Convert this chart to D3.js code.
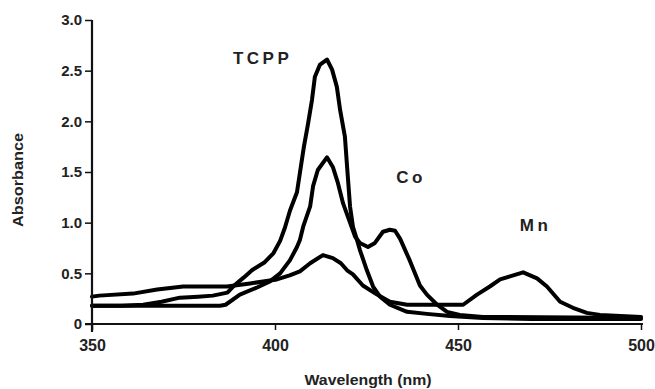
<!DOCTYPE html>
<html>
<head>
<meta charset="utf-8">
<script src="https://cdn.jsdelivr.net/npm/d3@7"></script>
<style>
  body { margin: 0; background: #fff; }
  text { font-family: "Liberation Sans", Arial, sans-serif; font-weight: bold; fill: #222; }
</style>
</head>
<body>
<div id="chart-area"></div>
<script>
// [wavelength nm, absorbance]
const tcpp = [[350,0.18],[358,0.18],[364,0.19],[369,0.22],[374,0.26],[379,0.27],[383,0.28],[387,0.31],[389,0.385],[391.5,0.46],[393.7,0.53],[397.2,0.61],[399.6,0.70],[401.4,0.82],[402.7,0.95],[404.1,1.12],[406,1.30],[406.8,1.49],[407.9,1.75],[409,1.97],[410.1,2.21],[410.9,2.44],[412.3,2.56],[414.2,2.61],[415.6,2.51],[416.9,2.34],[417.8,2.11],[419.1,1.85],[419.7,1.55],[420.5,1.16],[421.3,0.96],[422.4,0.83],[423.2,0.73],[425.1,0.53],[426.8,0.37],[428.7,0.27],[431.4,0.19],[436.1,0.12],[441.5,0.10],[447.8,0.08],[456.8,0.06],[470,0.05],[500,0.05]];
const co = [[350,0.18],[370,0.18],[385,0.18],[386.5,0.19],[390.4,0.29],[395.1,0.36],[398.6,0.42],[401.4,0.50],[404.1,0.63],[406,0.76],[406.8,0.83],[407.7,0.96],[409.6,1.16],[410.4,1.36],[411.7,1.52],[414.2,1.645],[415.8,1.55],[417.2,1.39],[418.6,1.19],[420.5,1.0],[421.9,0.86],[423.2,0.80],[425.4,0.76],[427.3,0.80],[429.5,0.91],[431.4,0.93],[432.8,0.92],[434.2,0.84],[436.9,0.62],[439.6,0.38],[441.5,0.29],[444.3,0.19],[447,0.12],[450.5,0.09],[456.8,0.07],[500,0.06]];
const mn = [[350,0.27],[352,0.28],[361.2,0.30],[367.8,0.34],[374.9,0.37],[386.9,0.37],[393.2,0.40],[400.5,0.44],[404,0.48],[406.8,0.52],[409.6,0.60],[413.1,0.68],[415.8,0.65],[418,0.60],[419.7,0.53],[421.3,0.49],[424,0.38],[427.9,0.29],[431.4,0.22],[436.1,0.19],[445.1,0.19],[451.4,0.19],[455.2,0.29],[458.7,0.37],[461.5,0.44],[464.2,0.47],[467.8,0.51],[471.6,0.45],[474.3,0.37],[477.9,0.22],[481.4,0.16],[485.2,0.11],[488.8,0.09],[500,0.07]];

const xTicks = [350, 400, 450, 500];
const yTicks = [0, 0.5, 1.0, 1.5, 2.0, 2.5, 3.0];
const seriesLabels = [
  { name: "TCPP", at: [388.5, 2.57] },
  { name: "Co", at: [433.1, 1.39] },
  { name: "Mn", at: [466.9, 0.92] }
];

const chartSize = { width: 655, height: 389 };
const margin = { left: 92, top: 20 };
const width = 641 - margin.left;
const height = 324 - margin.top;

const svg = d3.select("#chart-area")
  .append("svg")
  .attr("width", chartSize.width)
  .attr("height", chartSize.height);

const g = svg.append("g")
  .attr("transform", `translate(${margin.left},${margin.top})`);

const x = d3.scaleLinear().domain([350, 500]).range([0, width]);
const y = d3.scaleLinear().domain([0, 3]).range([height, 0]);

const line = d3.line()
  .x(d => x(d[0]))
  .y(d => y(d[1]));

[mn, co, tcpp].forEach(s => {
  g.append("path")
    .datum(s)
    .attr("fill", "none")
    .attr("stroke", "#000")
    .attr("stroke-width", 4)
    .attr("stroke-linejoin", "round")
    .attr("stroke-linecap", "round")
    .attr("d", line);
});

// axes
const yAxis = d3.axisLeft(y)
  .tickValues(yTicks)
  .tickSize(7)
  .tickPadding(3)
  .tickFormat(d => d === 0 ? "0" : d3.format(".1f")(d));

const xAxis = d3.axisBottom(x)
  .tickValues(xTicks)
  .tickSize(6)
  .tickPadding(10)
  .tickFormat(d3.format("d"));

const yG = g.append("g").attr("class", "y axis").call(yAxis);
const xG = g.append("g").attr("class", "x axis")
  .attr("transform", `translate(0,${height})`).call(xAxis);

[yG, xG].forEach(a => {
  a.select(".domain").remove();
  a.selectAll("line").attr("stroke", "#111").attr("stroke-width", 1.5);
  a.selectAll("text").attr("fill", "#222").style("font-size", "15px");
});
xG.selectAll("text").style("font-size", "16px");

// axis lines, extended past the origin like the original
g.append("line")
  .attr("x1", 0).attr("x2", 0)
  .attr("y1", y(3)).attr("y2", y(0) + 8)
  .attr("stroke", "#111").attr("stroke-width", 2.2);
g.append("line")
  .attr("x1", -7).attr("x2", x(500) + 2)
  .attr("y1", y(0)).attr("y2", y(0))
  .attr("stroke", "#111").attr("stroke-width", 2.2);

svg.append("text")
  .attr("transform", "translate(23,180) rotate(-90)")
  .attr("text-anchor", "middle")
  .attr("textLength", 94)
  .attr("lengthAdjust", "spacingAndGlyphs")
  .style("font-size", "14px")
  .text("Absorbance");

svg.append("text")
  .attr("x", 368)
  .attr("y", 385)
  .attr("text-anchor", "middle")
  .attr("textLength", 127)
  .attr("lengthAdjust", "spacingAndGlyphs")
  .style("font-size", "14px")
  .text("Wavelength (nm)");

g.selectAll(".series-label")
  .data(seriesLabels)
  .enter()
  .append("text")
  .attr("class", "series-label")
  .attr("x", d => x(d.at[0]))
  .attr("y", d => y(d.at[1]))
  .attr("text-anchor", "start")
  .style("font-size", "17px")
  .style("letter-spacing", "3.5px")
  .text(d => d.name);
</script>
</body>
</html>
